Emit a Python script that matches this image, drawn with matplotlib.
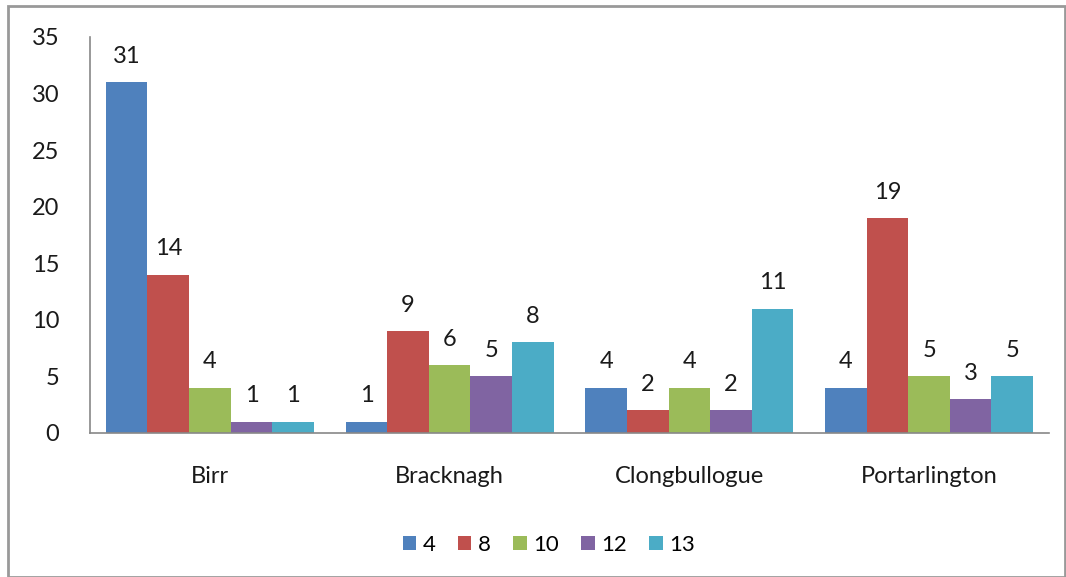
import matplotlib.pyplot as plt
import numpy as np
from matplotlib.patches import Rectangle

plt.rcParams['font.family'] = ['Lato', 'DejaVu Sans']

towns = ['Birr', 'Bracknagh', 'Clongbullogue', 'Portarlington']
series = ['4', '8', '10', '12', '13']
s4 = [31, 1, 4, 4]
s8 = [14, 9, 2, 19]
s10 = [4, 6, 4, 5]
s12 = [1, 5, 2, 3]
s13 = [1, 8, 11, 5]
values = [s4, s8, s10, s12, s13]
colors = ['#4F81BD', '#C0504D', '#9BBB59', '#8064A2', '#4BACC6']

fig = plt.figure(figsize=(10.66, 5.77), dpi=100)
ax = fig.add_axes([0.0844, 0.2496, 0.8996, 0.6864])

x = np.arange(len(towns))
width = 0.867 / len(series)
for i, (name, vals, c) in enumerate(zip(series, values, colors)):
    pos = x - 0.867 / 2 + width * (i + 0.5)
    bars = ax.bar(pos, vals, width, color=c, label=name)
    for b, v in zip(bars, vals):
        ax.annotate(str(v), (b.get_x() + b.get_width() / 2, v), xytext=(0, 11),
                    textcoords='offset points', ha='center', va='bottom',
                    fontsize=17, color='#1a1a1a')

ax.set_xlim(-0.5, len(towns) - 0.5)
ax.set_ylim(0, 35)
ax.set_yticks(range(0, 36, 5))
ax.set_xticks(x)
ax.set_xticklabels(towns)
ax.tick_params(axis='both', length=0, labelsize=17, colors='#1a1a1a')
ax.tick_params(axis='y', pad=22)
ax.tick_params(axis='x', pad=24)
for s in ['top', 'right']:
    ax.spines[s].set_visible(False)
for s in ['left', 'bottom']:
    ax.spines[s].set_color('#888888')
    ax.spines[s].set_linewidth(1.2)

ax.legend(loc='center', bbox_to_anchor=(549 / 1066, 1 - 545 / 577),
          bbox_transform=fig.transFigure, ncol=5, frameon=False, fontsize=16,
          handlelength=0.6, handleheight=0.6, handletextpad=0.3, columnspacing=1.0)

fig.patches.append(Rectangle((8 / 1066, 0), 1 - 8 / 1066 - 0.001, 1 - 6 / 577,
                             transform=fig.transFigure, fill=False,
                             edgecolor='#999999', linewidth=2))

plt.savefig('out.png', dpi=100)
